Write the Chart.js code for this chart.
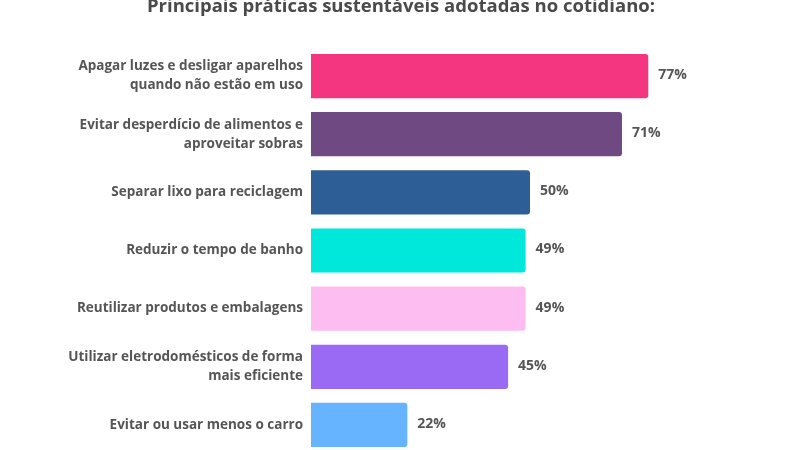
<!DOCTYPE html>
<html>
<head>
<meta charset="utf-8">
<script src="https://cdn.jsdelivr.net/npm/chart.js@4"></script>
<style>
  html, body { margin: 0; padding: 0; overflow: hidden; background: #fff; }
  canvas { display: block; }
</style>
</head>
<body>
<canvas id="chart" width="800" height="458"></canvas>
<script>
// data
const titleText = "Principais práticas sustentáveis adotadas no cotidiano:";
const categories = [
  ["Apagar luzes e desligar aparelhos", "quando não estão em uso"],
  ["Evitar desperdício de alimentos e", "aproveitar sobras"],
  "Separar lixo para reciclagem",
  "Reduzir o tempo de banho",
  "Reutilizar produtos e embalagens",
  ["Utilizar eletrodomésticos de forma", "mais eficiente"],
  "Evitar ou usar menos o carro"
];
const values = [77, 71, 50, 49, 49, 45, 22];
const barColors = ["#F4357F", "#6F4A82", "#2D5E96", "#00E8DC", "#FDBDF1", "#9B6AF4", "#66B3FF"];

const FONT = "'Open Sans', 'Noto Sans', sans-serif";
const TEXT = "#555555";

// title drawn by hand so it can sit partly above the top edge like the original
const titlePlugin = {
  id: "topTitle",
  afterDraw(chart) {
    const ctx = chart.ctx;
    ctx.save();
    ctx.font = "bold 18.5px " + FONT;
    ctx.fillStyle = "#4a4a4a";
    ctx.textAlign = "center";
    ctx.textBaseline = "middle";
    ctx.fillText(titleText, 401, 7);
    ctx.restore();
  }
};

// percentage next to each bar
const valueLabels = {
  id: "valueLabels",
  afterDatasetsDraw(chart) {
    const ctx = chart.ctx;
    const meta = chart.getDatasetMeta(0);
    ctx.save();
    ctx.font = "bold 14px " + FONT;
    ctx.fillStyle = TEXT;
    ctx.textAlign = "left";
    ctx.textBaseline = "middle";
    meta.data.forEach((bar, i) => {
      ctx.fillText(values[i] + "%", bar.x + 10, bar.y - 1);
    });
    ctx.restore();
  }
};

new Chart(document.getElementById("chart"), {
  type: "bar",
  data: {
    labels: categories,
    datasets: [{
      data: values,
      backgroundColor: barColors,
      borderRadius: 3,
      barPercentage: 0.76,
      categoryPercentage: 1
    }]
  },
  options: {
    indexAxis: "y",
    responsive: false,
    animation: false,
    layout: { padding: { top: 47, right: 51, bottom: 4, left: 0 } },
    plugins: {
      legend: { display: false },
      title: { display: false },
      tooltip: { enabled: false }
    },
    scales: {
      x: { display: false, min: 0, max: 100 },
      y: {
        grid: { display: false, drawTicks: false },
        border: { display: false },
        afterFit(scale) {
          scale.width = 311;
          scale.paddingTop = 0;
          scale.paddingBottom = 0;
        },
        ticks: {
          padding: 8,
          color: TEXT,
          font: { family: FONT, size: 13.5, weight: "bold", lineHeight: 1.4 }
        }
      }
    }
  },
  plugins: [titlePlugin, valueLabels]
});
</script>
</body>
</html>
